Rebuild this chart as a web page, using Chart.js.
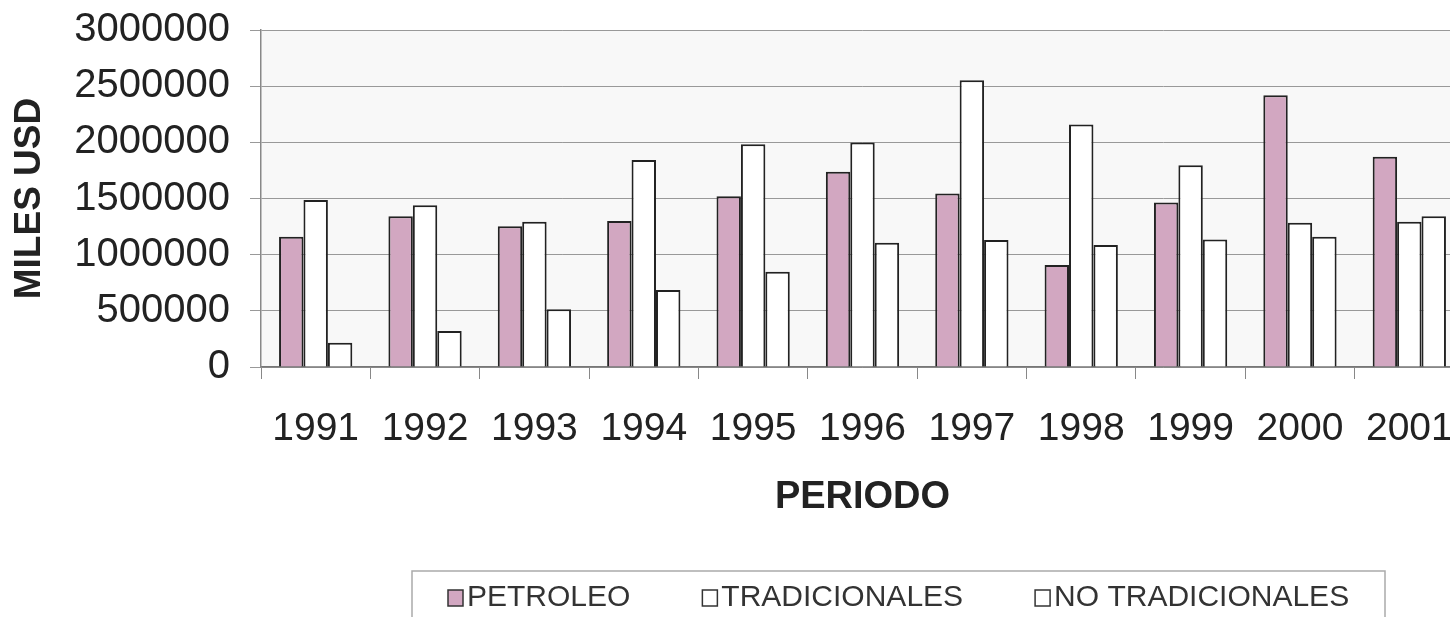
<!DOCTYPE html>
<html>
<head>
<meta charset="utf-8">
<script src="https://cdn.jsdelivr.net/npm/chart.js@4.4.0/dist/chart.umd.min.js"></script>
<style>
  html, body { margin: 0; padding: 0; background: #fff; overflow: hidden; }
  #wrap { width: 1450px; height: 617px; overflow: hidden; }
  canvas { display: block; }
</style>
</head>
<body>
<div id="wrap"><canvas id="chart" width="1470" height="617"></canvas></div>
<script>
const years = ['1991', '1992', '1993', '1994', '1995', '1996', '1997', '1998', '1999', '2000', '2001'];
const petroleo = [1160000, 1343000, 1254000, 1299000, 1521000, 1738000, 1545000, 907000, 1465000, 2420000, 1871000];
const tradicionales = [1486000, 1439000, 1293000, 1842000, 1984000, 1999000, 2553000, 2159000, 1797000, 1284000, 1293000];
const noTradicionales = [216000, 320000, 513000, 685000, 848000, 1106000, 1130000, 1085000, 1136000, 1159000, 1343000];

const FONT = "'Liberation Sans', Arial, sans-serif";
const INK = '#222';

// plot area background
const plotBg = {
  id: 'plotBg',
  beforeDraw(chart) {
    const {ctx, chartArea: a} = chart;
    ctx.save();
    ctx.fillStyle = '#f8f8f8';
    ctx.fillRect(a.left, a.top, a.right - a.left, a.bottom - a.top);
    ctx.restore();
  }
};

// boxed legend below the axis title
const boxLegend = {
  id: 'boxLegend',
  afterDraw(chart) {
    const ctx = chart.ctx;
    ctx.save();
    ctx.strokeStyle = '#aaa';
    ctx.lineWidth = 1.5;
    ctx.strokeRect(412, 571, 973, 80);

    ctx.font = '30px ' + FONT;
    ctx.textBaseline = 'middle';
    let x = 448;
    const y = 598;
    chart.data.datasets.forEach(ds => {
      ctx.fillStyle = ds.backgroundColor;
      ctx.fillRect(x, y - 8, 15, 16);
      ctx.strokeStyle = '#333';
      ctx.lineWidth = 1.5;
      ctx.strokeRect(x, y - 8, 15, 16);
      ctx.fillStyle = '#333';
      ctx.fillText(ds.label, x + 19, y);
      x += 19 + ctx.measureText(ds.label).width + 72;
    });
    ctx.restore();
  }
};

const barStyle = {borderColor: '#222', borderWidth: 2, categoryPercentage: 0.67, barPercentage: 1.0};

new Chart('chart', {
  type: 'bar',
  data: {
    labels: years,
    datasets: [
      {label: 'PETROLEO', data: petroleo, backgroundColor: '#d2a7c1', ...barStyle},
      {label: 'TRADICIONALES', data: tradicionales, backgroundColor: '#ffffff', ...barStyle},
      {label: 'NO TRADICIONALES', data: noTradicionales, backgroundColor: '#ffffff', ...barStyle},
    ]
  },
  options: {
    responsive: false,
    animation: false,
    layout: {padding: {left: 0, right: 6, top: 30, bottom: 90}},
    plugins: {
      legend: {display: false},
      tooltip: {enabled: false},
    },
    scales: {
      x: {
        grid: {display: true, drawOnChartArea: false, drawTicks: true, tickLength: 12, color: '#888', offset: true},
        border: {color: '#777', width: 1.5},
        ticks: {color: INK, font: {family: FONT, size: 39}, padding: 27, maxRotation: 0, autoSkip: false},
        title: {display: true, text: 'PERIODO', color: INK, font: {family: FONT, size: 38, weight: 'bold'}, padding: {top: 0, bottom: 7}},
        afterFit(scale) {
          scale.height = 160;
          scale.paddingLeft = 0;
          scale.paddingRight = 0;
        }
      },
      y: {
        min: 0,
        max: 3000000,
        grid: {color: '#999', lineWidth: 1, tickLength: 11},
        border: {color: '#888', width: 1.5},
        ticks: {stepSize: 500000, color: INK, font: {family: FONT, size: 40}, padding: 20, callback: v => String(v)},
        title: {display: true, text: 'MILES USD', color: INK, font: {family: FONT, size: 37, weight: 'bold'}, padding: {top: 8, bottom: 0}},
        afterFit(scale) {
          scale.width = 261;
          scale.paddingTop = 0;
          scale.paddingBottom = 0;
        }
      }
    }
  },
  plugins: [plotBg, boxLegend]
});
</script>
</body>
</html>
